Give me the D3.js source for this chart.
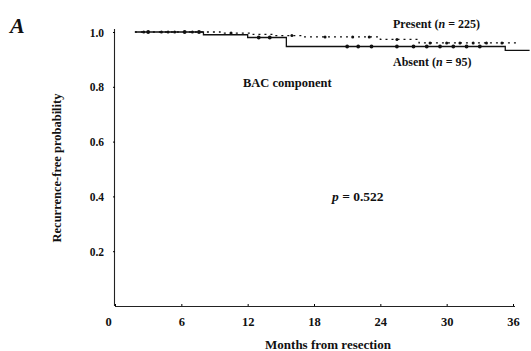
<!DOCTYPE html>
<html>
<head>
<meta charset="utf-8">
<script src="https://cdn.jsdelivr.net/npm/d3@7"></script>
<style>
  html, body { margin: 0; padding: 0; background: #fff; }
  svg { display: block; }
  text { font-family: "Liberation Serif", "Times New Roman", serif; fill: #111; }
</style>
</head>
<body>
<svg id="chart" width="531" height="351"></svg>
<script>
// Kaplan-Meier step data (months, recurrence-free probability)
const presentMonths = [1.8, 9.5, 12.5, 14.5, 17.0, 24.0, 27.5, 36.5];
const presentSurv   = [1.000, 0.996, 0.991, 0.987, 0.982, 0.973, 0.960, 0.960];
const absentMonths  = [1.8, 8.0, 12.0, 15.5, 35.3, 37.5];
const absentSurv    = [1.000, 0.990, 0.980, 0.947, 0.933, 0.933];

// censoring times
const presentCensor = [2.6, 4.2, 4.8, 5.4, 7.0, 10.5, 16.0, 19.0, 21.5, 23.0, 25.5, 28.5, 30.0, 31.2, 32.4, 33.6, 35.0];
const absentCensor  = [3.0, 6.3, 7.6, 13.0, 14.0, 21.0, 22.0, 23.2, 25.5, 27.0, 28.2, 29.4, 30.6, 31.8, 33.0];

const xTicks = [0, 6, 12, 18, 24, 30, 36];
const yTicks = [0.2, 0.4, 0.6, 0.8, 1.0];

const svg = d3.select("#chart");
const x = d3.scaleLinear().domain([0, 36]).range([115, 513]);
const y = d3.scaleLinear().domain([0, 1]).range([306, 32]);

// axes
const yAxis = svg.append("g").attr("transform", "translate(115,0)")
  .call(d3.axisLeft(y).tickValues(yTicks).tickFormat(d3.format(".1f")).tickSize(2).tickPadding(9));
yAxis.select(".domain").attr("d", `M-0.5,${y(0)}V29`).attr("stroke", "#222").attr("stroke-width", 1.1);
yAxis.selectAll("text").style("font-size", "11.5px").style("font-weight", "bold")
  .attr("dy", "0.35em");

const xAxis = svg.append("g").attr("transform", `translate(0,${y(0)})`)
  .call(d3.axisBottom(x).tickValues(xTicks).tickSize(-2).tickPadding(11));
xAxis.select(".domain").attr("d", `M115,0.5H515`).attr("stroke", "#222").attr("stroke-width", 1.1);
xAxis.selectAll("text").style("font-size", "12.5px").style("font-weight", "bold");
xAxis.selectAll(".tick").filter(d => d === 0).select("text").attr("x", -7);

function survAt(months, surv, t) {
  let s = surv[0];
  for (let i = 0; i < months.length; i++) if (months[i] <= t) s = surv[i];
  return s;
}

const line = d3.line().x(d => x(d[0])).y(d => y(d[1])).curve(d3.curveStepAfter);

// Absent: solid
svg.append("path")
  .datum(d3.zip(absentMonths, absentSurv))
  .attr("d", line).attr("fill", "none").attr("stroke", "#111").attr("stroke-width", 1.3);
// Present: dashed
svg.append("path")
  .datum(d3.zip(presentMonths, presentSurv))
  .attr("d", line).attr("fill", "none").attr("stroke", "#111").attr("stroke-width", 1.3)
  .attr("stroke-dasharray", "2,4");

svg.append("g").selectAll("circle").data(absentCensor).join("circle")
  .attr("cx", d => x(d)).attr("cy", d => y(survAt(absentMonths, absentSurv, d)))
  .attr("r", 1.9).attr("fill", "#111");
svg.append("g").selectAll("circle").data(presentCensor).join("circle")
  .attr("cx", d => x(d)).attr("cy", d => y(survAt(presentMonths, presentSurv, d)))
  .attr("r", 1.5).attr("fill", "#111");

// labels
svg.append("text").attr("x", 10).attr("y", 33)
  .style("font-size", "22px").style("font-weight", "bold").style("font-style", "italic").text("A");

svg.append("text").attr("transform", "translate(61,168) rotate(-90)")
  .attr("text-anchor", "middle").style("font-size", "12.5px").style("font-weight", "bold")
  .text("Recurrence-free probability");

svg.append("text").attr("x", 328).attr("y", 349).attr("text-anchor", "middle")
  .style("font-size", "13px").style("font-weight", "bold").text("Months from resection");

svg.append("text").attr("x", 243).attr("y", 87)
  .style("font-size", "12.5px").style("font-weight", "bold").text("BAC component");

const pt = svg.append("text").attr("x", 332).attr("y", 201)
  .style("font-size", "13.5px").style("font-weight", "bold");
pt.append("tspan").style("font-style", "italic").text("p");
pt.append("tspan").text(" = 0.522");

function groupLabel(xp, yp, name, n) {
  const t = svg.append("text").attr("x", xp).attr("y", yp)
    .style("font-size", "12px").style("font-weight", "bold");
  t.append("tspan").text(name + " (");
  t.append("tspan").style("font-style", "italic").text("n");
  t.append("tspan").text(" = " + n + ")");
}
groupLabel(393, 28, "Present", 225);
groupLabel(393, 66, "Absent", 95);
</script>
</body>
</html>
